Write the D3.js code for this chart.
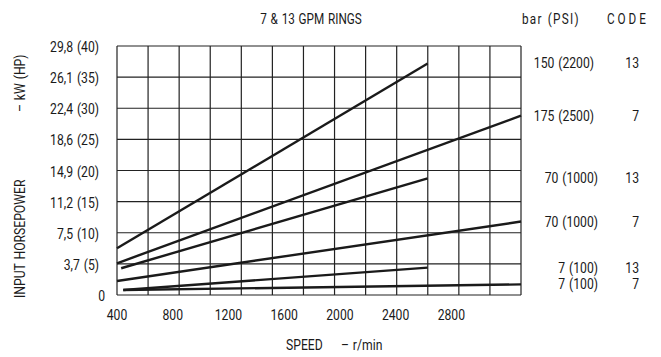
<!DOCTYPE html>
<html>
<head>
<meta charset="utf-8">
<script src="https://cdn.jsdelivr.net/npm/d3@7"></script>
<style>
  html, body { margin: 0; padding: 0; background: #fff; }
  svg text { font-family: Roboto, "Liberation Sans", sans-serif; font-size: 14px; fill: #1a1a1a; word-spacing: 1px; }
</style>
</head>
<body>
<div id="chart"></div>
<script>
  // x ticks (r/min)
  var speedTicks = [400, 800, 1200, 1600, 2000, 2400, 2800];
  // y ticks in HP, and their kW (HP) labels
  var hpTicks = [0, 5, 10, 15, 20, 25, 30, 35, 40];
  var hpLabels = ['0', '3,7 (5)', '7,5 (10)', '11,2 (15)', '14,9 (20)', '18,6 (25)', '22,4 (30)', '26,1 (35)', '29,8 (40)'];

  // one entry per curve
  var pressures = ['150 (2200)', '175 (2500)', '70 (1000)', '70 (1000)', '7 (100)', '7 (100)'];
  var codes     = ['13', '7', '13', '7', '13', '7'];
  var startRpm  = [400, 400, 430, 400, 445, 445];
  var startHp   = [7.5, 5.1, 4.3, 2.25, 0.8, 0.8];
  var endRpm    = [2630, 3300, 2630, 3300, 2630, 3300];
  var endHp     = [37.2, 28.8, 18.75, 11.8, 4.4, 1.7];

  var width = 661, height = 357;
  var plotLeft = 117, plotRight = 521, plotTop = 46, plotBottom = 295;

  // no condensed face installed, so narrow the glyphs by hand
  function place(px, py, rot, sx) {
    return 'translate(' + px + ',' + py + ')' + (rot ? ' rotate(' + rot + ')' : '') + ' scale(' + (sx || 0.87) + ',1)';
  }

  var svg = d3.select('#chart').append('svg')
    .attr('width', width)
    .attr('height', height);

  var x = d3.scaleLinear().domain([400, 3300]).range([plotLeft, plotRight]);
  var y = d3.scaleLinear().domain([0, 40]).range([plotBottom, plotTop]);

  // grid: 13 columns, 8 rows
  var colCount = 13;
  var cols = d3.range(colCount + 1).map(function(i) {
    return x.domain()[0] + i * (x.domain()[1] - x.domain()[0]) / colCount;
  });

  var grid = svg.append('g').attr('stroke', '#222').attr('stroke-width', 1.2);
  grid.selectAll('line.v').data(cols).enter().append('line')
    .attr('class', 'v')
    .attr('x1', function(d) { return x(d); })
    .attr('x2', function(d) { return x(d); })
    .attr('y1', y(0))
    .attr('y2', y(40));
  grid.selectAll('line.h').data(hpTicks).enter().append('line')
    .attr('class', 'h')
    .attr('x1', x(400))
    .attr('x2', x(3300))
    .attr('y1', function(d) { return y(d); })
    .attr('y2', function(d) { return y(d); });

  // y tick labels
  svg.selectAll('text.ytick').data(hpTicks).enter().append('text')
    .attr('class', 'ytick')
    .attr('transform', function(d) { return place(d === 0 ? 105 : 99, y(d) + 6); })
    .attr('text-anchor', 'end')
    .text(function(d, i) { return hpLabels[i]; });

  // x tick labels
  svg.selectAll('text.xtick').data(speedTicks).enter().append('text')
    .attr('class', 'xtick')
    .attr('transform', function(d) { return place(x(d), 320); })
    .attr('text-anchor', 'middle')
    .text(function(d) { return d; });

  // curves
  var curves = d3.range(pressures.length).map(function(i) {
    return [[startRpm[i], startHp[i]], [endRpm[i], endHp[i]]];
  });
  var line = d3.line()
    .x(function(d) { return x(d[0]); })
    .y(function(d) { return y(d[1]); });

  svg.selectAll('path.curve').data(curves).enter().append('path')
    .attr('class', 'curve')
    .attr('d', line)
    .attr('fill', 'none')
    .attr('stroke', '#1a1a1a')
    .attr('stroke-width', 2.4);

  // right-hand labels, level with each curve's end
  svg.selectAll('text.psi').data(endHp).enter().append('text')
    .attr('class', 'psi')
    .attr('transform', function(d, i) { return place(i < 2 ? 594 : 598, y(d) + 5); })
    .attr('text-anchor', 'end')
    .text(function(d, i) { return pressures[i]; });

  svg.selectAll('text.code').data(endHp).enter().append('text')
    .attr('class', 'code')
    .attr('transform', function(d) { return place(639, y(d) + 5); })
    .attr('text-anchor', 'end')
    .text(function(d, i) { return codes[i]; });

  // titles
  svg.append('text')
    .attr('transform', place(311, 24, 0, 0.84))
    .attr('text-anchor', 'middle')
    .text('7 & 13 GPM RINGS');

  svg.append('text')
    .attr('transform', place(522, 24, 0, 0.84))
    .attr('letter-spacing', 1.5)
    .text('bar (PSI)');

  svg.append('text')
    .attr('transform', place(607, 24, 0, 0.84))
    .attr('letter-spacing', 3.5)
    .text('CODE');

  svg.append('text')
    .attr('transform', place(286, 350))
    .text('SPEED');

  svg.append('text')
    .attr('transform', place(341, 350))
    .text('\u2013 r/min');

  // rotated y axis title
  svg.append('text')
    .attr('transform', place(25, 298, -90))
    .text('INPUT HORSEPOWER');

  svg.append('text')
    .attr('transform', place(25, 112, -90))
    .text('\u2013 kW (HP)');
</script>
</body>
</html>
